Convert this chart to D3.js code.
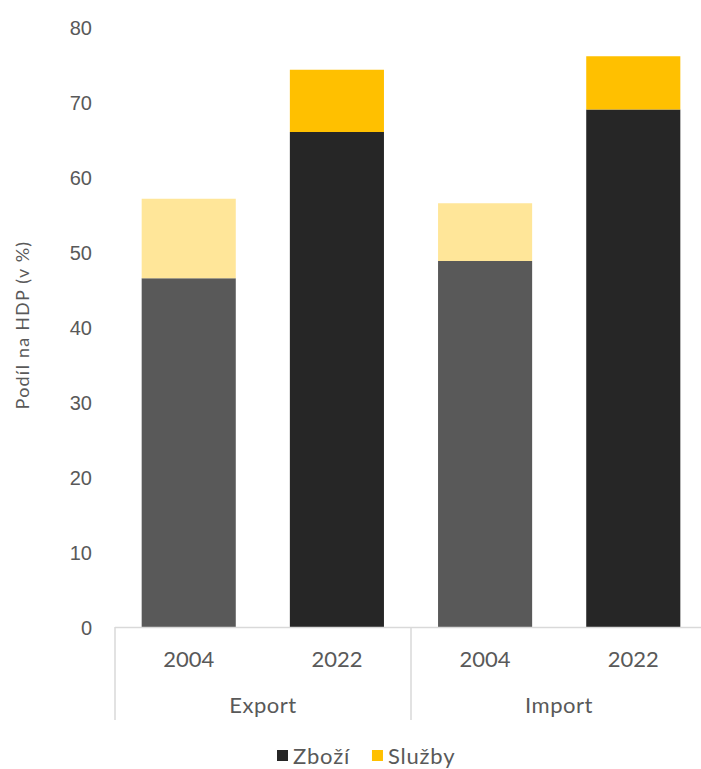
<!DOCTYPE html>
<html lang="cs">
<head>
<meta charset="UTF-8">
<script src="https://d3js.org/d3.v7.min.js"></script>
<style>
  body { margin: 0; background: #fff; font-family: "Lato", "Open Sans", sans-serif; }
  .tick text { fill: #595959; font-size: 20px; }
</style>
</head>
<body>
<svg id="chart"></svg>
<script>
const groups = ["Export", "Import"];
const years = ["2004", "2022"];
const zbozi = [46.5, 66.0, 48.8, 69.0];
const sluzby = [10.6, 8.3, 7.7, 7.1];
const yTicks = [0, 10, 20, 30, 40, 50, 60, 70, 80];

const W = 701, H = 769;
const margin = {top: 27, right: 0, bottom: 142, left: 115};
const plotRight = 707;
const baseY = H - margin.bottom;

const svg = d3.select("#chart").attr("width", W).attr("height", H);

const data = [];
groups.forEach((g, gi) => years.forEach((yr, yi) => {
  const i = gi * years.length + yi;
  data.push({key: g + "-" + yr, group: g, year: yr, zbozi: zbozi[i], sluzby: sluzby[i]});
}));

const x = d3.scaleBand().domain(data.map(d => d.key))
  .range([margin.left, plotRight]).paddingInner(0.365).paddingOuter(0.18);
const y = d3.scaleLinear().domain([0, 80]).range([baseY, margin.top]);

const goodsColor = d => d.year === "2004" ? "#595959" : "#262626";
const servColor = d => d.year === "2004" ? "#ffe699" : "#ffc000";

// y axis (labels only)
const yAxis = svg.append("g")
  .attr("transform", `translate(${margin.left - 23},0)`)
  .call(d3.axisLeft(y).tickValues(yTicks).tickSize(0).tickPadding(0));
yAxis.select(".domain").remove();
yAxis.selectAll(".tick text").attr("dy", "0.36em");

svg.append("text")
  .attr("transform", `translate(29,325) rotate(-90)`)
  .attr("text-anchor", "middle")
  .attr("fill", "#595959")
  .style("font-size", "18px")
  .style("letter-spacing", "1.2px")
  .text("Podíl na HDP (v %)");

// bars
svg.selectAll(".goods").data(data).enter().append("rect")
  .attr("x", d => x(d.key)).attr("width", x.bandwidth())
  .attr("y", d => y(d.zbozi)).attr("height", d => y(0) - y(d.zbozi))
  .attr("fill", goodsColor);
svg.selectAll(".serv").data(data).enter().append("rect")
  .attr("x", d => x(d.key)).attr("width", x.bandwidth())
  .attr("y", d => y(d.zbozi + d.sluzby)).attr("height", d => y(d.zbozi) - y(d.zbozi + d.sluzby))
  .attr("fill", servColor);

// category axis
svg.append("line").attr("x1", margin.left).attr("x2", W)
  .attr("y1", baseY + 0.5).attr("y2", baseY + 0.5)
  .attr("stroke", "#d9d9d9").attr("stroke-width", 1.5);
const groupW = (plotRight - margin.left) / groups.length;
groups.forEach((g, gi) => {
  const gx = margin.left + gi * groupW;
  svg.append("line").attr("x1", gx).attr("x2", gx)
    .attr("y1", baseY).attr("y2", baseY + 93)
    .attr("stroke", "#d9d9d9").attr("stroke-width", 1.5);
  svg.append("text").attr("x", gx + groupW / 2).attr("y", baseY + 86)
    .attr("text-anchor", "middle").attr("fill", "#595959")
    .style("font-size", "22px").style("letter-spacing", "0.5px").text(g);
});
svg.selectAll(".yr").data(data).enter().append("text")
  .attr("x", d => x(d.key) + x.bandwidth() / 2).attr("y", baseY + 40)
  .attr("text-anchor", "middle").attr("fill", "#595959")
  .style("font-size", "22px").text(d => d.year);

// legend
const legend = [{name: "Zboží", color: "#262626"}, {name: "Služby", color: "#ffc000"}];
const lg = svg.append("g").attr("transform", `translate(277,${H - 5})`);
let lx = 0;
legend.forEach(l => {
  lg.append("rect").attr("x", lx).attr("y", -14).attr("width", 11).attr("height", 11).attr("fill", l.color);
  const t = lg.append("text").attr("x", lx + 16).attr("y", 0).attr("fill", "#595959")
    .style("font-size", "22px").style("letter-spacing", "0.8px").text(l.name);
  lx += 16 + t.node().getComputedTextLength() + 22;
});
</script>
</body>
</html>
